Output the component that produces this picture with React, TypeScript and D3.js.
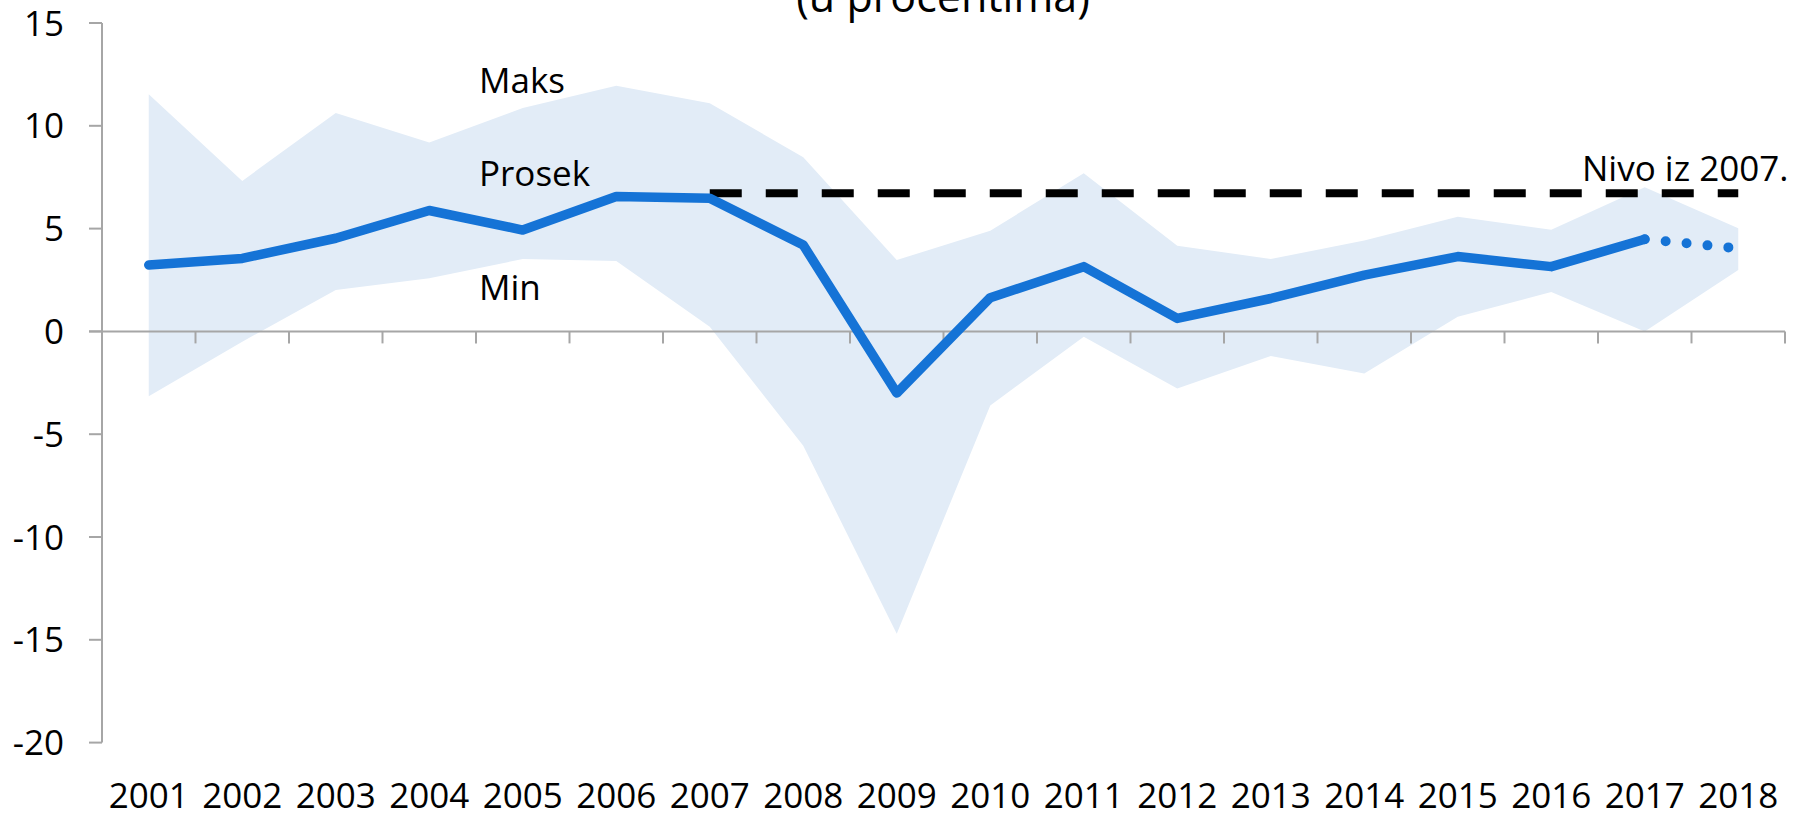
import React from "react";
import * as d3 from "d3";

const years = ["2001","2002","2003","2004","2005","2006","2007","2008","2009","2010","2011","2012","2013","2014","2015","2016","2017","2018"];
const prosek = [3.23, 3.55, 4.53, 5.88, 4.93, 6.56, 6.48, 4.2, -3.0, 1.64, 3.15, 0.63, 1.6, 2.74, 3.64, 3.15, 4.48, 4.04];
const maks = [11.54, 7.32, 10.62, 9.19, 10.86, 11.95, 11.1, 8.47, 3.47, 4.9, 7.69, 4.17, 3.52, 4.42, 5.58, 4.94, 7.01, 5.02];
const minv = [-3.15, -0.5, 2.01, 2.58, 3.52, 3.43, 0.23, -5.56, -14.7, -3.6, -0.26, -2.78, -1.2, -2.05, 0.71, 1.92, 0.0, 2.99];
const nivo2007 = 6.72;
const yTicks = [15, 10, 5, 0, -5, -10, -15, -20];
const title = "(u procentima)";
const annotations = [
  { text: "Maks", year: "2005", value: 11.6 },
  { text: "Prosek", year: "2005", value: 7.07 },
  { text: "Min", year: "2005", value: 1.52 },
];

const W = 1811, H = 814;
const FONT = "'Open Sans', 'Noto Sans', sans-serif";
const AXIS = "#a6a6a6";
const BLUE = "#1573d6";

export default function App() {
  const x = d3.scaleBand<string>().domain(years).range([102, 1785]).padding(0);
  const cx = (yr: string) => (x(yr) as number) + x.bandwidth() / 2;
  const y = d3.scaleLinear().domain([-20, 15]).range([742.6, 23]);

  const rows = years.map((yr, i) => ({ yr, p: prosek[i], mx: maks[i], mn: minv[i] }));
  const area = d3.area<any>().x(d => cx(d.yr)).y0(d => y(d.mn)).y1(d => y(d.mx));
  const line = d3.line<any>().x(d => cx(d.yr)).y(d => y(d.p));
  const solid = rows.slice(0, rows.length - 1);
  const dotted = rows.slice(rows.length - 2);

  const xTickPos = [...years.map(yr => x(yr) as number), x.range()[1]];
  const y0 = y(0);

  return (
    <svg width={W} height={H} style={{ position: "absolute", left: 0, top: 0, display: "block", background: "#fff" }} fontFamily={FONT}>
      <text x={943} y={12} fontSize={43} textAnchor="middle" fill="#000">{title}</text>
      <path d={area(rows) as string} fill="#e2ecf7" />
      {/* y axis */}
      <line x1={102} x2={102} y1={y(15)} y2={y(-20)} stroke={AXIS} strokeWidth={2} />
      {yTicks.map(t => (
        <g key={t}>
          <line x1={89} x2={102} y1={y(t)} y2={y(t)} stroke={AXIS} strokeWidth={2} />
          <text x={64} y={y(t) + 12.5} fontSize={35} textAnchor="end" fill="#000">{t}</text>
        </g>
      ))}
      {/* x axis at zero */}
      <line x1={89} x2={x.range()[1]} y1={y0} y2={y0} stroke={AXIS} strokeWidth={2} />
      {xTickPos.map((p, i) => (
        <line key={i} x1={p} x2={p} y1={y0} y2={y0 + 12} stroke={AXIS} strokeWidth={2} />
      ))}
      {years.map(yr => (
        <text key={yr} x={cx(yr)} y={808} fontSize={35} textAnchor="middle" fill="#000">{yr}</text>
      ))}
      {/* 2007 level */}
      <line x1={cx("2007")} x2={cx("2018")} y1={y(nivo2007)} y2={y(nivo2007)} stroke="#000" strokeWidth={8} strokeDasharray="32 24" />
      {/* average */}
      <path d={line(solid) as string} fill="none" stroke={BLUE} strokeWidth={9.5} strokeLinejoin="round" strokeLinecap="round" />
      <path d={line(dotted) as string} fill="none" stroke={BLUE} strokeWidth={10} strokeLinecap="round" strokeDasharray="0 21" />
      {annotations.map(a => (
        <text key={a.text} x={479} y={y(a.value)} fontSize={35} fill="#000">{a.text}</text>
      ))}
      <text x={1582} y={181} fontSize={35} fill="#000">Nivo iz 2007.</text>
    </svg>
  );
}
